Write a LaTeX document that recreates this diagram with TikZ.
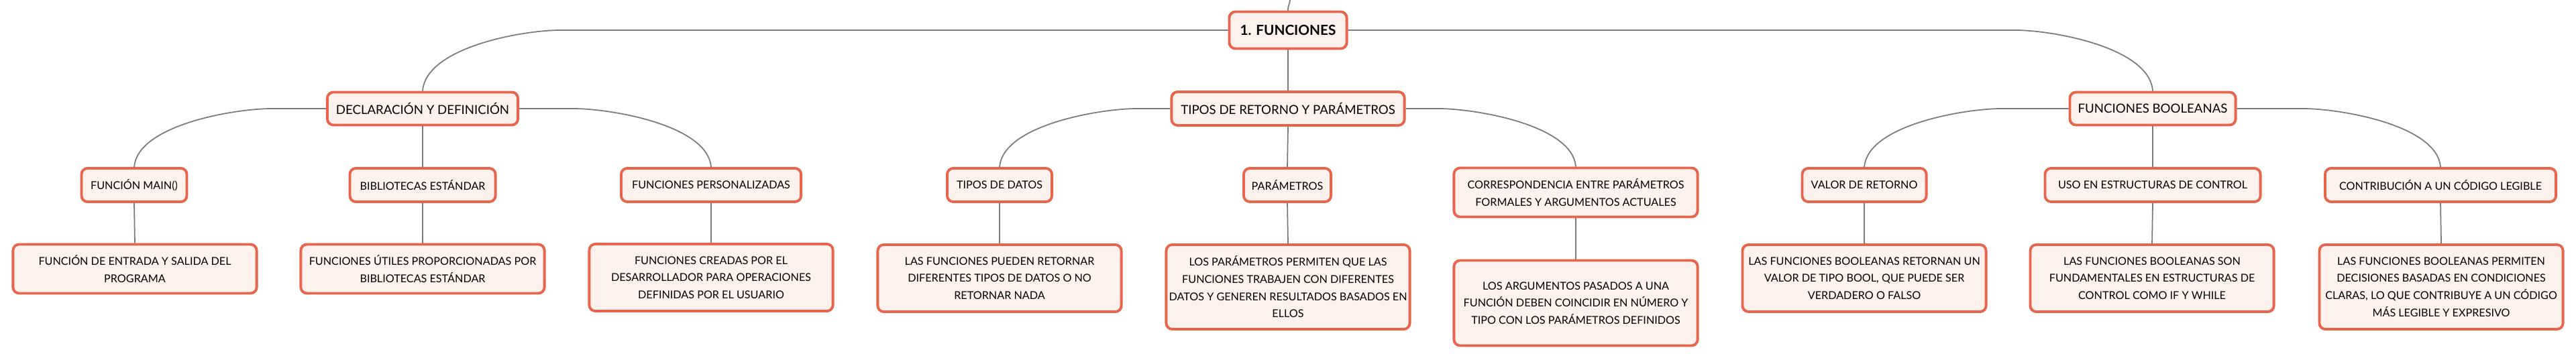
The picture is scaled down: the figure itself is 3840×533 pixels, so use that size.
\documentclass[tikz,border=0pt]{standalone}
\usepackage{fontspec}
\setmainfont{Lato}
\usetikzlibrary{calc}
\definecolor{bordc}{HTML}{E9644C}
\definecolor{fillc}{HTML}{FDF1ED}
\definecolor{linkc}{HTML}{7A7A7A}
\newcommand\curvelink[3]{%
  \draw[link] (#1) -- ($(#2.north |- #1)+(#3*205,0)$)
    .. controls ($(#2.north |- #1)+(#3*150,0)$) and ($(#2.north |- #1)!0.28!(#2.north)+(#3*5,0)$) .. (#2.north);}
\begin{document}
\begin{tikzpicture}[x=0.01cm,y=-0.01cm,
  box/.style={draw=bordc,fill=fillc,line width=1.1pt,rounded corners=2.6pt,inner sep=0pt,align=center,text=black},
  rootbox/.style={box,font=\fontsize{5.9}{7}\selectfont\bfseries},
  lvla/.style={box,font=\fontsize{5.3}{7.3}\selectfont},
  lvlb/.style={box,font=\fontsize{4.6}{7.3}\selectfont},
  leaf/.style={box,font=\fontsize{4.6}{7.3}\selectfont,minimum width=3.63cm},
  link/.style={draw=linkc,line width=0.5pt}]
\fill[white] (0,0) rectangle (3840,533);
\useasboundingbox (0,0) rectangle (3840,533);
% root
\node[rootbox,minimum width=1.75cm,minimum height=0.55cm] (root) at (1920,45) {1. FUNCIONES};
\coordinate (topend) at (1923,0);
% level 1
\node[lvla,minimum width=2.84cm,minimum height=0.49cm] (decl) at (630,162) {DECLARACIÓN Y DEFINICIÓN};
\node[lvla,minimum width=3.47cm,minimum height=0.50cm] (tipos) at (1920,162) {TIPOS DE RETORNO Y PARÁMETROS};
\node[lvla,minimum width=2.47cm,minimum height=0.49cm] (bool) at (3209,162) {FUNCIONES BOOLEANAS};
% level 2
\node[lvlb,minimum width=1.57cm,minimum height=0.50cm] (main) at (200,276) {FUNCIÓN MAIN()};
\node[lvlb,minimum width=2.17cm,minimum height=0.50cm] (bib) at (630,276) {BIBLIOTECAS ESTÁNDAR};
\node[lvlb,minimum width=2.68cm,minimum height=0.50cm] (pers) at (1060,276) {FUNCIONES PERSONALIZADAS};
\node[lvlb,minimum width=1.56cm,minimum height=0.50cm] (datos) at (1490,276) {TIPOS DE DATOS};
\node[lvlb,minimum width=1.30cm,minimum height=0.50cm] (param) at (1919,276) {PARÁMETROS};
\node[lvlb,minimum width=3.63cm,minimum height=0.73cm] (corr) at (2349,287) {CORRESPONDENCIA ENTRE PARÁMETROS\\FORMALES Y ARGUMENTOS ACTUALES};
\node[lvlb,minimum width=1.85cm,minimum height=0.50cm] (valor) at (2779,276) {VALOR DE RETORNO};
\node[lvlb,minimum width=3.21cm,minimum height=0.50cm] (uso) at (3209,276) {USO EN ESTRUCTURAS DE CONTROL};
\node[lvlb,minimum width=3.44cm,minimum height=0.50cm] (contr) at (3638,276) {CONTRIBUCIÓN A UN CÓDIGO LEGIBLE};
% leaves
\node[leaf,minimum height=0.73cm] (l1) at (201,401) {FUNCIÓN DE ENTRADA Y SALIDA DEL\\PROGRAMA};
\node[leaf,minimum height=0.73cm] (l2) at (630,401) {FUNCIONES ÚTILES PROPORCIONADAS POR\\BIBLIOTECAS ESTÁNDAR};
\node[leaf,minimum height=1.00cm] (l3) at (1060,414) {FUNCIONES CREADAS POR EL\\DESARROLLADOR PARA OPERACIONES\\DEFINIDAS POR EL USUARIO};
\node[leaf,minimum height=1.00cm] (l4) at (1490,415) {LAS FUNCIONES PUEDEN RETORNAR\\DIFERENTES TIPOS DE DATOS O NO\\RETORNAR NADA};
\node[leaf,minimum height=1.26cm] (l5) at (1920,428) {LOS PARÁMETROS PERMITEN QUE LAS\\FUNCIONES TRABAJEN CON DIFERENTES\\DATOS Y GENEREN RESULTADOS BASADOS EN\\ELLOS};
\node[leaf,minimum height=1.27cm] (l6) at (2349,452) {LOS ARGUMENTOS PASADOS A UNA\\FUNCIÓN DEBEN COINCIDIR EN NÚMERO Y\\TIPO CON LOS PARÁMETROS DEFINIDOS};
\node[leaf,minimum height=1.00cm] (l7) at (2779,415) {LAS FUNCIONES BOOLEANAS RETORNAN UN\\VALOR DE TIPO BOOL, QUE PUEDE SER\\VERDADERO O FALSO};
\node[leaf,minimum height=1.00cm] (l8) at (3208,415) {LAS FUNCIONES BOOLEANAS SON\\FUNDAMENTALES EN ESTRUCTURAS DE\\CONTROL COMO IF Y WHILE};
\node[leaf,minimum height=1.26cm] (l9) at (3639,428) {LAS FUNCIONES BOOLEANAS PERMITEN\\DECISIONES BASADAS EN CONDICIONES\\CLARAS, LO QUE CONTRIBUYE A UN CÓDIGO\\MÁS LEGIBLE Y EXPRESIVO};
% connectors
\begin{scope}[on background layer/.style={}]
\draw[link] (root.north) .. controls ($(root.north)+(0,-8)$) and ($(topend)+(-1,8)$) .. (topend);
\curvelink{root.west}{decl}{1}
\curvelink{root.east}{bool}{-1}
\draw[link] (root.south) -- (tipos.north);
\curvelink{decl.west}{main}{1}
\draw[link] (decl.south) -- (bib.north);
\curvelink{decl.east}{pers}{-1}
\curvelink{tipos.west}{datos}{1}
\draw[link] (tipos.south) -- (param.north);
\curvelink{tipos.east}{corr}{-1}
\curvelink{bool.west}{valor}{1}
\draw[link] (bool.south) -- (uso.north);
\curvelink{bool.east}{contr}{-1}
\draw[link] (main.south) -- (l1.north);
\draw[link] (bib.south) -- (l2.north);
\draw[link] (pers.south) -- (l3.north);
\draw[link] (datos.south) -- (l4.north);
\draw[link] (param.south) -- (l5.north);
\draw[link] (corr.south) -- (l6.north);
\draw[link] (valor.south) -- (l7.north);
\draw[link] (uso.south) -- (l8.north);
\draw[link] (contr.south) -- (l9.north);
\end{scope}
\end{tikzpicture}
\end{document}
